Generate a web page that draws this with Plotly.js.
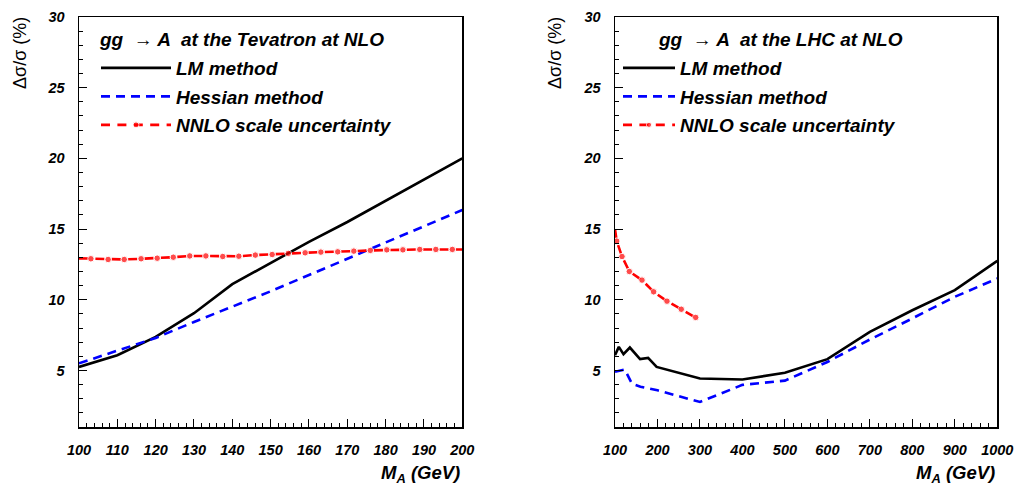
<!DOCTYPE html>
<html>
<head>
<meta charset="utf-8">
<script src="https://cdn.plot.ly/plotly-3.0.1.min.js"></script>
<style>html,body{margin:0;padding:0;background:#fff}#chart{width:1014px;height:486px}</style>
</head>
<body>
<div id="chart"></div>
<script>
// ---------- Data ----------
// Left panel: gg -> A at the Tevatron at NLO
const tevMass = [100, 110, 120, 130, 140, 150, 160, 170, 180, 190, 200];
const tevLM = [5.25, 6.08, 7.37, 9.05, 11.1, 12.6, 14.1, 15.5, 17.0, 18.5, 20.0];
const tevHessian = [5.5, 6.38, 7.3, 8.43, 9.5, 10.6, 11.75, 12.9, 14.0, 15.15, 16.35];
const tevScaleMass = [100, 103.1, 107.6, 111.8, 116.2, 120.4, 124.6, 128.9, 133.1, 137.5, 141.7, 146.0, 150.4, 154.6, 159.0, 163.1, 167.5, 171.7, 176.0, 180.3, 184.5, 188.9, 193.1, 197.4, 200];
const tevScale = [12.93, 12.90, 12.85, 12.85, 12.90, 12.94, 13.01, 13.10, 13.10, 13.06, 13.08, 13.16, 13.20, 13.28, 13.32, 13.37, 13.39, 13.44, 13.49, 13.53, 13.53, 13.56, 13.56, 13.56, 13.56];

// Right panel: gg -> A at the LHC at NLO
const lhcMassLM = [100, 109, 120, 135, 159, 178, 198, 300, 400, 500, 600, 700, 800, 900, 1000];
const lhcLM = [6.08, 6.67, 6.15, 6.62, 5.8, 5.89, 5.25, 4.43, 4.36, 4.83, 5.8, 7.73, 9.26, 10.68, 12.75];
const lhcMassHessian = [100, 123, 140, 160, 200, 300, 400, 500, 600, 700, 800, 900, 1000];
const lhcHessian = [4.9, 5.07, 4.05, 3.85, 3.6, 2.77, 3.98, 4.28, 5.6, 7.19, 8.68, 10.21, 11.5];
const lhcScaleMass = [100, 104, 116.5, 133.7, 163.6, 191, 222.4, 256, 290, 297];
const lhcScale = [15.0, 14.15, 13.06, 12.0, 11.39, 10.56, 9.9, 9.33, 8.75, 8.62];

// Labels
const seriesNames = ['LM method', 'Hessian method', 'NNLO scale uncertainty'];
const panelTitles = ['gg  \u2192 A  at the Tevatron at NLO', 'gg  \u2192 A  at the LHC at NLO'];
const xTitle = 'M<sub>A</sub> (GeV)';
const yTitle = '\u0394\u03c3/\u03c3 (%)';

// ---------- Styles ----------
const FAM = 'Liberation Sans, Arial, Helvetica, sans-serif';
const boldItalic = (s) => ({family: FAM, size: s, color: '#000', weight: 'bold', style: 'italic'});
const lmLine = {color: '#000', width: 2.6};
const hesLine = {color: '#0000ff', width: 2.6, dash: '9px,6px'};
const scaleLine = {color: '#ff0000', width: 2.6, dash: '9px,7.4px'};
const dotSizes = (arr) => arr.map((v, i) => (i === 0 || i === arr.length - 1) ? 0 : 6.5);

const traces = [
  {x: tevMass, y: tevLM, type: 'scatter', mode: 'lines', name: seriesNames[0], line: lmLine, xaxis: 'x', yaxis: 'y', legend: 'legend', legendgroup: 'a'},
  {x: tevMass, y: tevHessian, type: 'scatter', mode: 'lines', name: seriesNames[1], line: hesLine, xaxis: 'x', yaxis: 'y', legend: 'legend', legendgroup: 'b'},
  {x: tevScaleMass, y: tevScale, type: 'scatter', mode: 'lines+markers', name: seriesNames[2], line: scaleLine,
   marker: {color: '#ff0000', size: dotSizes(tevScaleMass)}, xaxis: 'x', yaxis: 'y', legend: 'legend', legendgroup: 'c'},
  {x: lhcMassLM, y: lhcLM, type: 'scatter', mode: 'lines', name: seriesNames[0], line: lmLine, xaxis: 'x2', yaxis: 'y2', legend: 'legend2', legendgroup: 'a2'},
  {x: lhcMassHessian, y: lhcHessian, type: 'scatter', mode: 'lines', name: seriesNames[1], line: hesLine, xaxis: 'x2', yaxis: 'y2', legend: 'legend2', legendgroup: 'b2'},
  {x: lhcScaleMass, y: lhcScale, type: 'scatter', mode: 'lines+markers', name: seriesNames[2], line: scaleLine,
   marker: {color: '#ff0000', size: dotSizes(lhcScaleMass)}, xaxis: 'x2', yaxis: 'y2', legend: 'legend2', legendgroup: 'c2'}
];

const W = 1014, H = 486;
const yDom = [1 - 427 / H, 1 - 17 / H];
const xCommon = {
  showgrid: false, zeroline: false, showline: true, mirror: true, linecolor: '#000', linewidth: 1.5,
  ticks: 'inside', ticklen: 8, tickwidth: 1, tickcolor: '#000',
  tickfont: boldItalic(14.5), ticklabelstandoff: 9,
  minor: {ticks: 'inside', ticklen: 4, tickwidth: 1, tickcolor: '#000'}
};
const yCommon = Object.assign({}, xCommon, {range: [1, 30], tickmode: 'linear', tick0: 0, dtick: 5, domain: yDom, ticklabelstandoff: 10});

const legendCommon = {
  font: boldItalic(19), bgcolor: 'rgba(0,0,0,0)', borderwidth: 0,
  xanchor: 'left', yanchor: 'top', traceorder: 'grouped', tracegroupgap: 0.8, yref: 'paper', xref: 'paper'
};

const layout = {
  width: W, height: H,
  margin: {l: 0, r: 0, t: 0, b: 0},
  paper_bgcolor: '#fff', plot_bgcolor: '#fff',
  xaxis: Object.assign({}, xCommon, {domain: [79 / W, 462.3 / W], range: [100, 200], tickmode: 'linear', tick0: 100, dtick: 10, anchor: 'y',
    minor: Object.assign({}, xCommon.minor, {dtick: 2})}),
  yaxis: Object.assign({}, yCommon, {anchor: 'x', minor: Object.assign({}, xCommon.minor, {dtick: 1})}),
  xaxis2: Object.assign({}, xCommon, {domain: [615 / W, 997.3 / W], range: [100, 1000], tickmode: 'linear', tick0: 100, dtick: 100, anchor: 'y2',
    minor: Object.assign({}, xCommon.minor, {dtick: 20})}),
  yaxis2: Object.assign({}, yCommon, {anchor: 'x2', minor: Object.assign({}, xCommon.minor, {dtick: 1})}),
  legend: Object.assign({}, legendCommon, {x: 96 / W, y: 1 - 49 / H, itemwidth: 70}),
  legend2: Object.assign({}, legendCommon, {x: 618 / W, y: 1 - 49 / H, itemwidth: 52}),
  showlegend: true,
  annotations: [
    {text: panelTitles[0], xref: 'paper', yref: 'paper', x: 97 / W, y: 1 - 40 / H, xanchor: 'left', yanchor: 'middle', showarrow: false, font: boldItalic(19)},
    {text: panelTitles[1], xref: 'paper', yref: 'paper', x: 656 / W, y: 1 - 40 / H, xanchor: 'left', yanchor: 'middle', showarrow: false, font: boldItalic(19)},
    {text: xTitle, xref: 'x domain', yref: 'paper', x: 1, y: 1 - 474 / H, xanchor: 'right', yanchor: 'middle', showarrow: false, font: boldItalic(18.5)},
    {text: xTitle, xref: 'x2 domain', yref: 'paper', x: 1, y: 1 - 474 / H, xanchor: 'right', yanchor: 'middle', showarrow: false, font: boldItalic(18.5)},
    {text: yTitle, xref: 'paper', yref: 'paper', x: 20 / W, y: 1 - 15 / H, xanchor: 'center', yanchor: 'top', textangle: -90, showarrow: false, font: {family: FAM, size: 18, color: '#000'}},
    {text: yTitle, xref: 'paper', yref: 'paper', x: 555 / W, y: 1 - 15 / H, xanchor: 'center', yanchor: 'top', textangle: -90, showarrow: false, font: {family: FAM, size: 18, color: '#000'}}
  ]
};

Plotly.newPlot('chart', traces, layout, {displayModeBar: false, staticPlot: true});
</script>
</body>
</html>
